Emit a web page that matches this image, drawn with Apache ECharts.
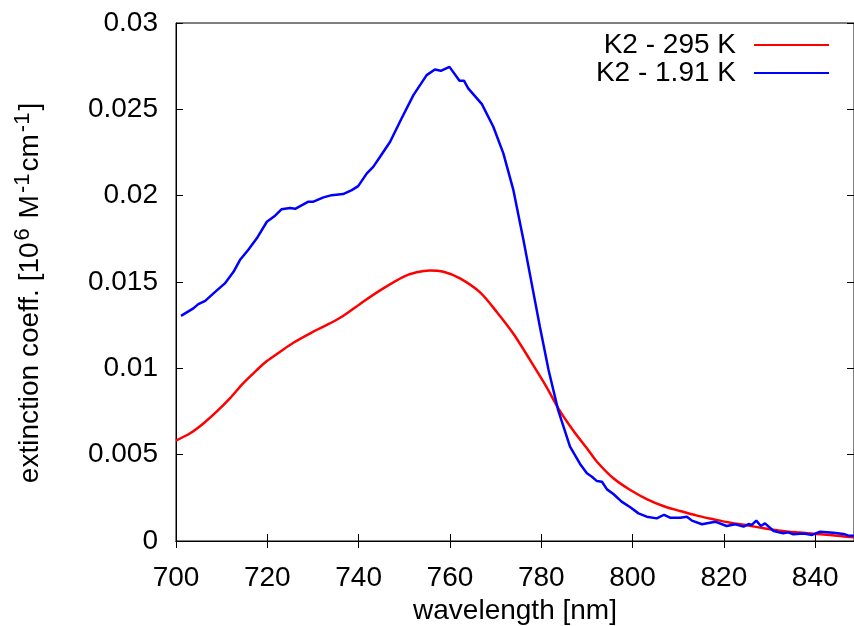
<!DOCTYPE html>
<html>
<head>
<meta charset="utf-8">
<script src="https://cdn.jsdelivr.net/npm/echarts@6/dist/echarts.min.js"></script>
<style>
html,body{margin:0;padding:0;background:#fff;}
#c{width:854px;height:626px;}
</style>
</head>
<body>
<div id="c"></div>
<script>
const xTicks = [700, 720, 740, 760, 780, 800, 820, 840];
const yTicks = [0, 0.005, 0.01, 0.015, 0.02, 0.025, 0.03];

const seriesNames = ['K2 - 295 K', 'K2 - 1.91 K'];

const redX = [700, 703.1, 706.0, 708.9, 711.8, 714.7, 717.7, 719.9, 722.8, 725.7, 729.4, 733.7, 736.6, 741.0, 745.4, 749.8, 752.7, 755.6, 758.6, 762.2, 766.6, 770.3, 773.9, 777.5, 781.2, 783.7, 787.0, 790.0, 792.2, 795.8, 799.5, 803.1, 806.7, 810.4, 814.1, 817.7, 821.4, 825.0, 828.7, 832.3, 836.0, 839.6, 843.3, 846.9, 848.5];
const redY = [0.00582, 0.00624, 0.00681, 0.00749, 0.00826, 0.00913, 0.0099, 0.01042, 0.01096, 0.01148, 0.01203, 0.0126, 0.01303, 0.01386, 0.01463, 0.0153, 0.01556, 0.01567, 0.01559, 0.01521, 0.01440, 0.01325, 0.01200, 0.01050, 0.00890, 0.00770, 0.00640, 0.00537, 0.00459, 0.00363, 0.00295, 0.00243, 0.00203, 0.00174, 0.00147, 0.00126, 0.00106, 0.00091, 0.00074, 0.0006, 0.0005, 0.00042, 0.00035, 0.00025, 0.00021];

const blueX = [701.1, 703.8, 704.9, 706.4, 708.2, 710.7, 712.6, 714.0, 715.8, 717.7, 719.9, 721.7, 723.1, 725.0, 726.1, 729.0, 730.1, 732.3, 734.1, 736.6, 738.5, 739.9, 741.8, 743.2, 744.7, 746.9, 749.4, 752.0, 754.9, 756.7, 758.0, 759.9, 762.1, 763.1, 764.0, 767.0, 769.5, 771.7, 773.9, 776.1, 777.9, 779.7, 781.6, 783.7, 786.3, 788.5, 790.0, 791.1, 792.2, 793.3, 794.4, 795.8, 797.6, 799.5, 801.3, 803.1, 805.3, 806.9, 808.2, 810.4, 811.9, 813.0, 815.2, 818.1, 820.6, 822.5, 824.3, 825.4, 826.1, 827.1, 828.1, 829.0, 830.9, 833.0, 834.1, 835.2, 836.7, 837.8, 839.3, 841.1, 844.0, 846.2, 847.3, 848.5];
const blueY = [0.01304, 0.01347, 0.01372, 0.01391, 0.01434, 0.01492, 0.01559, 0.01627, 0.01685, 0.01753, 0.01849, 0.01884, 0.01921, 0.01928, 0.01924, 0.01965, 0.01965, 0.0199, 0.02003, 0.02009, 0.02032, 0.02055, 0.02129, 0.02167, 0.02225, 0.02312, 0.02447, 0.02582, 0.02698, 0.02731, 0.02723, 0.02746, 0.02665, 0.02665, 0.02621, 0.0253, 0.02399, 0.02245, 0.02032, 0.01743, 0.01492, 0.01241, 0.0099, 0.00758, 0.00546, 0.00446, 0.00392, 0.00372, 0.00347, 0.00343, 0.00299, 0.00272, 0.00228, 0.00195, 0.0016, 0.00141, 0.00131, 0.00152, 0.00135, 0.00135, 0.00141, 0.00118, 0.00097, 0.00112, 0.00087, 0.00097, 0.00083, 0.00098, 0.00093, 0.00118, 0.00087, 0.00102, 0.00058, 0.00045, 0.0005, 0.00039, 0.00042, 0.00042, 0.00035, 0.00054, 0.00048, 0.00041, 0.00031, 0.00031];

const zip = (xs, ys) => xs.map((x, i) => [x, ys[i]]);

const FONT = '"Liberation Sans", Arial, sans-serif';
const FS = 28;
const xMin = 700, xMax = 848.5;
const yMin = 0, yMax = 0.03;

const chart = echarts.init(document.getElementById('c'), null, {renderer: 'canvas'});
const tickStyle = {show: true, inside: true, length: 7, lineStyle: {color: '#000', width: 1}};
chart.setOption({
  animation: false,
  backgroundColor: '#fff',
  grid: {left: 176, top: 23, right: 0, bottom: 85, show: true, borderColor: '#000', borderWidth: 1,
    containLabel: false, outerBoundsMode: 'none'},
  legend: {
    orient: 'vertical', right: 20, top: 26, align: 'right',
    itemWidth: 75, itemHeight: 2, itemGap: 0, icon: 'rect',
    data: seriesNames,
    textStyle: {fontFamily: FONT, fontSize: FS, color: '#000', lineHeight: 27, padding: [0, 13, 0, 0]}
  },
  xAxis: [{
    type: 'value', min: xMin, max: xMax, interval: 20,
    name: 'wavelength [nm]', nameLocation: 'middle', nameGap: 55,
    nameTextStyle: {fontFamily: FONT, fontSize: FS, color: '#000'},
    axisLine: {show: true, lineStyle: {color: '#000', width: 1}},
    axisTick: tickStyle,
    axisLabel: {fontFamily: FONT, fontSize: FS, color: '#000', margin: 23, showMaxLabel: false,
      formatter: v => xTicks.includes(v) ? String(v) : ''},
    splitLine: {show: false}
  }, {
    type: 'value', min: xMin, max: xMax, interval: 20, position: 'top',
    axisLine: {show: true, lineStyle: {color: '#000', width: 1}},
    axisTick: tickStyle, axisLabel: {show: false}, splitLine: {show: false}
  }],
  yAxis: [{
    type: 'value', min: yMin, max: yMax, interval: 0.005,
    name: 'extinction coeff. [10{sup|6} M{sup|-1}cm{sup|-1}]', nameLocation: 'middle', nameGap: 128,
    nameRotate: 90,
    nameTextStyle: {fontFamily: FONT, fontSize: FS, color: '#000', padding: [0, 22, 0, 0],
      rich: {sup: {fontFamily: FONT, fontSize: 22, color: '#000', verticalAlign: 'top', padding: [0, 2, 14, 2]}}},
    axisLine: {show: true, lineStyle: {color: '#000', width: 1}},
    axisTick: tickStyle,
    axisLabel: {fontFamily: FONT, fontSize: FS, color: '#000', margin: 18,
      formatter: v => yTicks.some(t => Math.abs(t - v) < 1e-9) ? String(+v.toFixed(3)) : ''},
    splitLine: {show: false}
  }, {
    type: 'value', min: yMin, max: yMax, interval: 0.005, position: 'right',
    axisLine: {show: true, lineStyle: {color: '#000', width: 1}},
    axisTick: tickStyle, axisLabel: {show: false}, splitLine: {show: false}
  }],
  series: [{
    name: seriesNames[0], type: 'line', xAxisIndex: 0, yAxisIndex: 0,
    data: zip(redX, redY), symbol: 'none', smooth: 0.3,
    lineStyle: {color: '#ff0000', width: 2.5}, itemStyle: {color: '#ff0000'}
  }, {
    name: seriesNames[1], type: 'line', xAxisIndex: 0, yAxisIndex: 0,
    data: zip(blueX, blueY), symbol: 'none',
    lineStyle: {color: '#0000ff', width: 2.5}, itemStyle: {color: '#0000ff'}
  }]
});
</script>
</body>
</html>
